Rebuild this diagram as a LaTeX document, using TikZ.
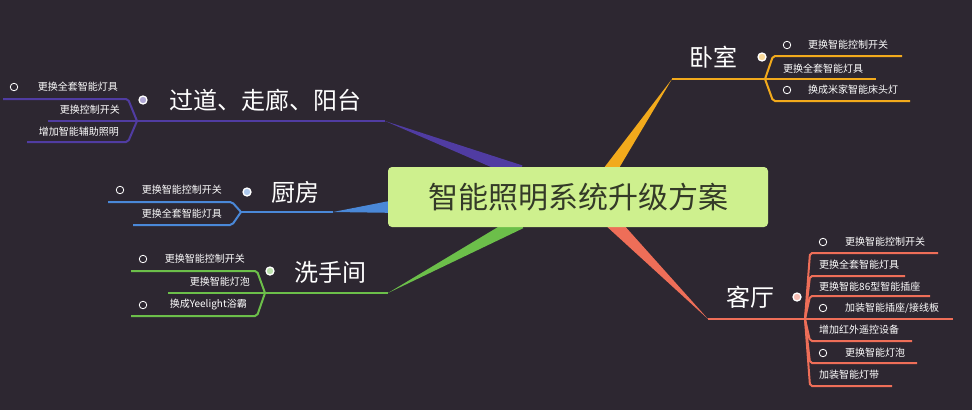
\documentclass[tikz,border=0pt]{standalone}
\usepackage{fontspec}
\setmainfont{Noto Sans CJK SC}
\usetikzlibrary{calc}
\definecolor{bgdark}{RGB}{45,39,49}
\definecolor{rootgreen}{RGB}{206,240,142}
\definecolor{rootink}{RGB}{52,58,40}
\definecolor{gdpurple}{RGB}{80,60,162}
\definecolor{cfblue}{RGB}{74,136,216}
\definecolor{xsgreen}{RGB}{108,191,74}
\definecolor{wsorange}{RGB}{242,170,28}
\definecolor{ktsalmon}{RGB}{238,110,88}
\tikzset{
	root/.style={fill=rootgreen, rounded corners=4pt, minimum width=380pt, minimum height=60pt, text=rootink, font=\fontsize{30}{32}\selectfont},
	topic/.style={text=white, inner sep=0pt, font=\fontsize{24}{26}\selectfont},
	leaf/.style={text=white, inner sep=0pt, font=\fontsize{10}{12}\selectfont},
	ring/.style={circle, draw=white, line width=0.8pt, inner sep=0pt, minimum size=7.5pt},
	knob/.style={circle, draw=white, line width=1.3pt, fill=#1!45!white, inner sep=0pt, minimum size=8pt},
	twig/.style={draw=#1, line width=2pt, rounded corners=2pt},
}
\def\wedge[#1](#2)(#3){\fill[#1] (#2) -- ($(#3)!7pt!90:(#2)$) -- ($(#3)!7pt!-90:(#2)$) -- cycle;}
\begin{document}
\begin{tikzpicture}[x=1pt, y=-1pt]
			%%%%% START %%%%%
			\fill[bgdark] (0,0) rectangle (972,410);
			\useasboundingbox (0,0) rectangle (972,410);
			
			% junctions
			\coordinate (gd-s) at (385,121);
			\coordinate (gd-j) at (137,121);
			\coordinate (cf-s) at (333,212);
			\coordinate (cf-j) at (241,212);
			\coordinate (xs-s) at (388,293);
			\coordinate (xs-j) at (265,293);
			\coordinate (ws-s) at (672,79);
			\coordinate (ws-j) at (765,79);
			\coordinate (kt-s) at (708,319);
			\coordinate (kt-j) at (805,319);
			
			% wedges
			\wedge[gdpurple](gd-s)(520,172)
			\wedge[cfblue](cf-s)(400,206)
			\wedge[xsgreen](xs-s)(520,222)
			\wedge[wsorange](ws-s)(605,178)
			\wedge[ktsalmon](kt-s)(610,220)
			
			\node[root] (plan) at (578,197) {智能照明系统升级方案};
			
			% 过道、走廊、阳台
			\draw[twig=gdpurple, line width=2.5pt] (gd-s) -- (gd-j);
			\draw[twig=gdpurple] (gd-j) -- (128,99) -- (3,99);
			\draw[twig=gdpurple] (gd-j) -- (48,121);
			\draw[twig=gdpurple] (gd-j) -- (128,142) -- (27,142);
			\node[topic] (gd) at (265,100) {过道、走廊、阳台};
			\node[knob=gdpurple] (gd-k) at (143,100) {};
			\node[ring] (gd-r1) at (14,87) {};
			\node[leaf, anchor=east] (gd-1) at (118,87) {更换全套智能灯具};
			\node[leaf, anchor=east] (gd-2) at (120,110) {更换控制开关};
			\node[leaf, anchor=east] (gd-3) at (119,132) {增加智能辅助照明};
			
			% 厨房
			\draw[twig=cfblue, line width=2.5pt] (cf-s) -- (cf-j);
			\draw[twig=cfblue] (cf-j) -- (232,202) -- (108,202);
			\draw[twig=cfblue] (cf-j) -- (232,225) -- (133,225);
			\node[topic] (cf) at (295,192) {厨房};
			\node[knob=cfblue] (cf-k) at (247,192) {};
			\node[ring] (cf-r1) at (120,190) {};
			\node[leaf, anchor=east] (cf-1) at (222,190) {更换智能控制开关};
			\node[leaf, anchor=east] (cf-2) at (222,214) {更换全套智能灯具};
			
			% 洗手间
			\draw[twig=xsgreen, line width=2.5pt] (xs-s) -- (xs-j);
			\draw[twig=xsgreen] (xs-j) -- (257,271) -- (131,271);
			\draw[twig=xsgreen] (xs-j) -- (168,293);
			\draw[twig=xsgreen] (xs-j) -- (257,316) -- (131,316);
			\node[topic] (xs) at (330,272) {洗手间};
			\node[knob=xsgreen] (xs-k) at (270,271) {};
			\node[ring] (xs-r1) at (143,259) {};
			\node[leaf, anchor=east] (xs-1) at (245,259) {更换智能控制开关};
			\node[leaf, anchor=east] (xs-2) at (250,282) {更换智能灯泡};
			\node[ring] (xs-r3) at (143,305) {};
			\node[leaf, anchor=east] (xs-3) at (247,305) {换成Yeelight浴霸};
			
			% 卧室
			\draw[twig=wsorange, line width=2.5pt] (ws-s) -- (ws-j);
			\draw[twig=wsorange] (ws-j) -- (773,56) -- (902,56);
			\draw[twig=wsorange] (ws-j) -- (876,79);
			\draw[twig=wsorange] (ws-j) -- (773,101) -- (910,101);
			\node[topic] (ws) at (713,57) {卧室};
			\node[knob=wsorange] (ws-k) at (762,57) {};
			\node[ring] (ws-r1) at (787,45) {};
			\node[leaf, anchor=west] (ws-1) at (808,45) {更换智能控制开关};
			\node[leaf, anchor=west] (ws-2) at (783,69) {更换全套智能灯具};
			\node[ring] (ws-r3) at (787,90) {};
			\node[leaf, anchor=west] (ws-3) at (808,90) {换成米家智能床头灯};
			
			% 客厅
			\draw[twig=ktsalmon, line width=2.5pt] (kt-s) -- (kt-j);
			\foreach \y/\e in {253/938, 276/905, 296/930, 341/912, 363/917, 386/892}
				\draw[twig=ktsalmon] (kt-j) -- (810,\y) -- (\e,\y);
			\draw[twig=ktsalmon] (kt-j) -- (953,319);
			\node[topic] (kt) at (750,297) {客厅};
			\node[knob=ktsalmon] (kt-k) at (797,297) {};
			\node[ring] (kt-r1) at (823,242) {};
			\node[leaf, anchor=west] (kt-1) at (845,242) {更换智能控制开关};
			\node[leaf, anchor=west] (kt-2) at (819,265) {更换全套智能灯具};
			\node[leaf, anchor=west] (kt-3) at (819,287) {更换智能86型智能插座};
			\node[ring] (kt-r4) at (823,308) {};
			\node[leaf, anchor=west] (kt-4) at (845,308) {加装智能插座/接线板};
			\node[leaf, anchor=west] (kt-5) at (819,330) {增加红外遥控设备};
			\node[ring] (kt-r6) at (823,353) {};
			\node[leaf, anchor=west] (kt-6) at (845,353) {更换智能灯泡};
			\node[leaf, anchor=west] (kt-7) at (819,375) {加装智能灯带};
			%%%%% END %%%%%
\end{tikzpicture}
\end{document}
